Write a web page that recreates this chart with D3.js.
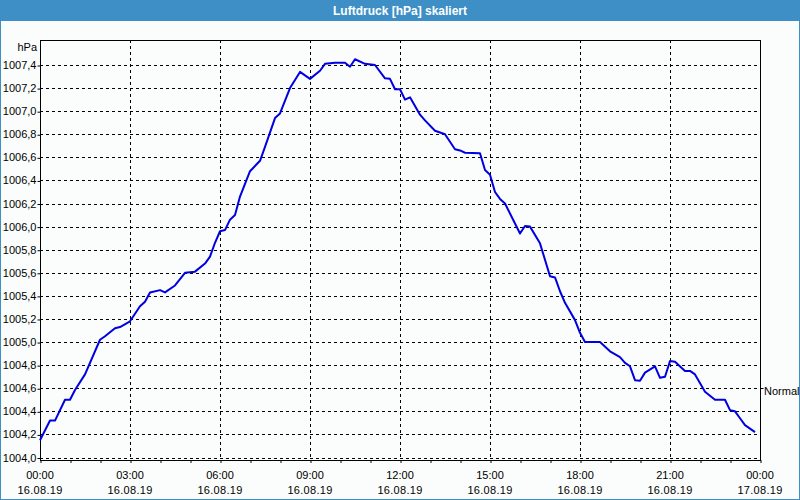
<!DOCTYPE html>
<html><head><meta charset="utf-8">
<script src="https://cdn.jsdelivr.net/npm/d3@7"></script>
<style>
html,body{margin:0;padding:0;background:#fff;}
svg{display:block;font-family:"Liberation Sans",Arial,sans-serif;}
</style></head><body>
<svg id="c" width="800" height="500"></svg>
<script>
const title = "Luftdruck [hPa] skaliert";
const unitLabel = "hPa";
const refLabel = "Normal";
const refValue = 1004.6;
const yTicks = [1004.0,1004.2,1004.4,1004.6,1004.8,1005.0,1005.2,1005.4,1005.6,1005.8,1006.0,1006.2,1006.4,1006.6,1006.8,1007.0,1007.2,1007.4];
const xTickTimes = ["00:00","03:00","06:00","09:00","12:00","15:00","18:00","21:00","00:00"];
const xTickDates = ["16.08.19","16.08.19","16.08.19","16.08.19","16.08.19","16.08.19","16.08.19","16.08.19","17.08.19"];
const times = ["00:00","00:20","00:30","00:50","01:00","01:10","01:30","02:00","02:10","02:30","02:40","03:00","03:20","03:30","03:40","04:00","04:10","04:30","04:50","05:10","05:30","05:40","05:50","06:00","06:10","06:20","06:30","06:40","07:00","07:20","07:30","07:50","08:00","08:20","08:40","09:00","09:20","09:30","09:50","10:10","10:20","10:30","10:50","11:10","11:30","11:40","11:50","12:00","12:10","12:20","12:40","12:50","13:10","13:30","13:50","14:00","14:10","14:40","14:50","15:00","15:10","15:20","15:30","16:00","16:10","16:20","16:40","17:00","17:10","17:20","17:30","17:50","18:00","18:10","18:30","18:40","19:00","19:20","19:30","19:40","19:50","20:00","20:10","20:30","20:40","20:50","21:00","21:10","21:30","21:40","21:50","22:10","22:30","22:50","23:00","23:10","23:20","23:30","23:50"];
const pressure = [1004.15,1004.32,1004.32,1004.50,1004.50,1004.585,1004.72,1005.02,1005.05,1005.12,1005.13,1005.18,1005.31,1005.35,1005.43,1005.45,1005.43,1005.49,1005.60,1005.61,1005.68,1005.74,1005.86,1005.96,1005.97,1006.06,1006.10,1006.26,1006.48,1006.57,1006.69,1006.94,1006.98,1007.20,1007.34,1007.28,1007.35,1007.41,1007.42,1007.42,1007.385,1007.45,1007.41,1007.40,1007.285,1007.28,1007.19,1007.19,1007.10,1007.12,1006.97,1006.92,1006.83,1006.80,1006.67,1006.66,1006.64,1006.635,1006.49,1006.45,1006.30,1006.24,1006.20,1005.94,1006.005,1006.00,1005.855,1005.57,1005.56,1005.44,1005.34,1005.19,1005.08,1005.00,1005.00,1005.00,1004.92,1004.87,1004.82,1004.79,1004.67,1004.665,1004.735,1004.79,1004.69,1004.70,1004.835,1004.83,1004.75,1004.75,1004.72,1004.57,1004.50,1004.50,1004.41,1004.40,1004.34,1004.28,1004.22];

const svg = d3.select("#c");
const W = 800, H = 500;
const L = 40, R = 760, T = 40, B = 460;

// window background & frame
svg.append("rect").attr("x",0).attr("y",0).attr("width",W).attr("height",H).attr("fill","#fbfdfc");
svg.append("rect").attr("x",0).attr("y",0).attr("width",W).attr("height",21).attr("fill","#3d8fc6");
svg.append("rect").attr("x",0.5).attr("y",0.5).attr("width",W-1).attr("height",H-1).attr("fill","none").attr("stroke","#3d8fc6").attr("stroke-width",1);
svg.append("text").attr("x",W/2).attr("y",14.5).attr("text-anchor","middle").attr("fill","#fff")
  .attr("font-size","12px").attr("font-weight","bold").text(title);

const parseMin = s => { const [h,m] = s.split(":").map(Number); return h*60+m; };
const x = d3.scaleLinear().domain([0,1440]).range([L,R]);
// 1004.0 sits at y=457.5, 1007.4 at y=65
const y = d3.scaleLinear().domain([1004.0,1007.4]).range([457.5,65]);

const data = times.map((t,i)=>({m:parseMin(t), v:pressure[i]}));

// horizontal grid
const g = svg.append("g");
g.selectAll(".hg").data(yTicks).join("line")
  .attr("x1",L).attr("x2",R).attr("y1",d=>Math.round(y(d))+0.5).attr("y2",d=>Math.round(y(d))+0.5)
  .attr("stroke","#000").attr("stroke-width",1).attr("stroke-dasharray","3,3");
// vertical grid every 3h (inner)
const vg = d3.range(180,1440,180);
g.selectAll(".vg").data(vg).join("line")
  .attr("x1",d=>Math.round(x(d))+0.5).attr("x2",d=>Math.round(x(d))+0.5).attr("y1",T).attr("y2",B)
  .attr("stroke","#000").attr("stroke-width",1).attr("stroke-dasharray","3,3");

// y axis
const yAxis = d3.axisLeft(y).tickValues(yTicks).tickSize(3).tickFormat(d=>d3.format(".1f")(d).replace(".",","));
const ya = svg.append("g").attr("transform",`translate(${L+0.5},0)`).call(yAxis);
ya.select(".domain").remove();
ya.selectAll(".tick line").attr("transform","translate(0,0.5)");
ya.selectAll("text").attr("font-size","11px").attr("font-family","Liberation Sans, Arial, sans-serif").attr("fill","#000").attr("x",-4);

// x axis minor ticks every hour
const xAxis = d3.axisBottom(x).tickValues(d3.range(0,1441,60)).tickSize(3).tickFormat("");
const xa = svg.append("g").attr("transform",`translate(0.5,${B})`).call(xAxis);
xa.select(".domain").remove();

// x labels
const xl = svg.append("g");
xTickTimes.forEach((t,i)=>{
  const xx = x(i*180);
  xl.append("text").attr("x",xx).attr("y",479).attr("text-anchor","middle").attr("font-size","11px").attr("fill","#000").text(t);
  xl.append("text").attr("x",xx).attr("y",494).attr("text-anchor","middle").attr("font-size","11px").attr("fill","#000").attr("letter-spacing","0.3px").text(xTickDates[i]);
});

// plot frame
svg.append("rect").attr("x",L+0.5).attr("y",T+0.5).attr("width",R-L).attr("height",B-T)
  .attr("fill","none").attr("stroke","#000").attr("stroke-width",1);

// unit label
svg.append("text").attr("x",37).attr("y",51).attr("text-anchor","end").attr("font-size","11px").attr("fill","#000").text(unitLabel);

// right reference tick + label
svg.append("line").attr("x1",R+0.5).attr("x2",R+3.5).attr("y1",Math.round(y(refValue))+0.5).attr("y2",Math.round(y(refValue))+0.5).attr("stroke","#000");
svg.append("text").attr("x",764).attr("y",y(refValue)+7).attr("font-size","11px").attr("fill","#000").text(refLabel);

// line
const line = d3.line().x(d=>x(d.m)).y(d=>y(d.v));
svg.append("path").datum(data).attr("d",line).attr("fill","none").attr("stroke","#0000e0").attr("stroke-width",2).attr("stroke-linejoin","round");
</script>
</body></html>
